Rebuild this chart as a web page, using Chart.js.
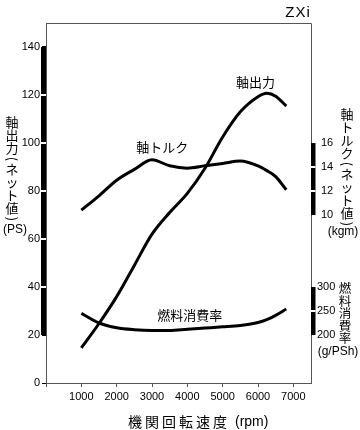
<!DOCTYPE html>
<html>
<head>
<meta charset="utf-8">
<script src="https://cdn.jsdelivr.net/npm/chart.js@4"></script>
<style>
  body { margin: 0; background: #fff; }
  canvas { display: block; }
</style>
</head>
<body>
<canvas id="engChart" width="360" height="430"></canvas>
<script>
// engine speed (rpm)
const rpm = [1000, 1500, 2000, 2500, 3000, 3500, 4000, 4500, 5000, 5500, 6000, 6250, 6500, 6800];
// 軸出力 (PS)
const power = [14.6, 24.8, 36, 49, 62, 71, 79, 89.5, 102.5, 113, 119.3, 120.7, 119.5, 115.4];
// 軸トルク (kgm)
const torque = [10.4, 11.6, 12.9, 13.8, 14.6, 14.1, 13.9, 14.1, 14.3, 14.5, 14.1, 13.7, 13.2, 12.1];
// 燃料消費率 (g/PSh)
const fuel = [245, 225, 215, 211, 209.5, 209.5, 212, 214.5, 217, 220, 226, 232, 241, 254];

const xTicks = [1000, 2000, 3000, 4000, 5000, 6000, 7000];
const powerTicks = [0, 20, 40, 60, 80, 100, 120, 140];
const torqueTicks = [10, 12, 14, 16];
const fuelTicks = [200, 250, 300];

// in-plot curve names: text, rpm, value, axis
const curveNames = ['軸出力', '軸トルク', '燃料消費率'];
const curveNameRpm = [5930, 3290, 4065];
const curveNameVal = [125.2, 15.7, 242.5];
const curveNameAxis = ['y', 'yT', 'yF'];

const jp = '"Noto Sans CJK JP", sans-serif';
const lat = '"Liberation Sans", Arial, sans-serif';
const narrow = '"Liberation Sans Narrow", "Liberation Sans", sans-serif';

function pts(ys) {
    return rpm.map((r, i) => ({x: r, y: ys[i]}));
}

// draw japanese text top-to-bottom, parens turned sideways
function vtext(ctx, str, x, yTop, size) {
    ctx.font = size + 'px ' + jp;
    ctx.textAlign = 'center';
    ctx.textBaseline = 'middle';
    let y = yTop;
    for (const ch of str) {
        if (ch === '(' || ch === ')') {
            const h = 8;
            ctx.save();
            ctx.translate(x, y + h / 2);
            ctx.rotate(Math.PI / 2);
            ctx.fillText(ch, 0, 0);
            ctx.restore();
            y += h;
        } else {
            ctx.fillText(ch, x, y + size / 2);
            y += size;
        }
    }
}

function bar(ctx, scale, x, w, vals) {
    const top = scale.getPixelForValue(vals[vals.length - 1]);
    const bot = scale.getPixelForValue(vals[0]);
    ctx.fillStyle = '#000';
    ctx.fillRect(x, top, w, bot - top);
    ctx.fillStyle = '#fff';
    for (let i = 1; i < vals.length - 1; i++) {
        const p = scale.getPixelForValue(vals[i]);
        ctx.fillRect(x, p - 1, w, 2);
    }
}

const decor = {
    id: 'decor',
    afterDraw(chart) {
        const ctx = chart.ctx;
        const a = chart.chartArea;
        const sy = chart.scales.y, sT = chart.scales.yT, sF = chart.scales.yF, sx = chart.scales.x;
        ctx.save();

        // frame top + right
        ctx.strokeStyle = '#555';
        ctx.lineWidth = 1;
        ctx.beginPath();
        ctx.moveTo(a.left, a.top + 0.5);
        ctx.lineTo(a.right + 0.5, a.top + 0.5);
        ctx.lineTo(a.right + 0.5, a.bottom);
        ctx.stroke();

        // thick bars beside the axes
        bar(ctx, sy, a.left - 5, 5, powerTicks.slice(1));
        bar(ctx, sT, a.right, 4.5, torqueTicks);
        bar(ctx, sF, a.right, 4.5, fuelTicks);

        // right tick labels
        ctx.fillStyle = '#000';
        ctx.textAlign = 'left';
        ctx.textBaseline = 'middle';
        ctx.font = '11px ' + narrow;
        torqueTicks.forEach(v => ctx.fillText(String(v), a.right + 10, sT.getPixelForValue(v)));
        ctx.font = '11px ' + lat;
        fuelTicks.forEach(v => ctx.fillText(String(v), a.right + 6, sF.getPixelForValue(v)));

        // axis titles
        vtext(ctx, '軸出力(ネット値)', 12, 116, 13);
        vtext(ctx, '軸トルク(ネット値)', 347, 108, 13);
        vtext(ctx, '燃料消費率', 345, 282, 12.5);
        ctx.font = '12px ' + lat;
        ctx.textAlign = 'center';
        ctx.textBaseline = 'middle';
        ctx.fillText('(PS)', 15, 230);
        ctx.fillText('(kgm)', 343, 232);
        ctx.fillText('(g/PSh)', 338, 352);

        // x title
        ctx.font = '14px ' + jp;
        ctx.letterSpacing = '3px';
        ctx.textAlign = 'left';
        ctx.fillText('機関回転速度', 128, 422);
        ctx.letterSpacing = '0px';
        ctx.font = '14px ' + lat;
        ctx.fillText('(rpm)', 235, 422);

        // model name
        ctx.font = '15px ' + lat;
        ctx.letterSpacing = '1px';
        ctx.textAlign = 'center';
        ctx.fillText('ZXi', 298, 13);
        ctx.letterSpacing = '0px';

        // curve names
        ctx.font = '13px ' + jp;
        curveNames.forEach((t, i) => {
            const s = chart.scales[curveNameAxis[i]];
            ctx.fillText(t, sx.getPixelForValue(curveNameRpm[i]), s.getPixelForValue(curveNameVal[i]));
        });
        ctx.restore();
    }
};

const line = (data, axis) => ({
    data: data,
    yAxisID: axis,
    borderColor: '#000',
    borderWidth: 3,
    pointRadius: 0,
    fill: false,
    cubicInterpolationMode: 'monotone'
});

new Chart(document.getElementById('engChart'), {
    type: 'line',
    data: {
        datasets: [
            line(pts(power), 'y'),
            line(pts(torque), 'yT'),
            line(pts(fuel), 'yF')
        ]
    },
    options: {
        responsive: false,
        animation: false,
        layout: { padding: { top: 23, right: 49, left: 0, bottom: 0 } },
        plugins: { legend: { display: false }, tooltip: { enabled: false } },
        scales: {
            x: {
                type: 'linear',
                min: 0,
                max: 7500,
                afterBuildTicks: s => { s.ticks = [0].concat(xTicks).map(v => ({value: v})); },
                ticks: {
                    autoSkip: false,
                    maxRotation: 0,
                    padding: 3,
                    color: '#000',
                    font: { family: narrow, size: 11 },
                    callback: v => v > 0 ? String(v) : ''
                },
                grid: { drawOnChartArea: false, tickLength: 4, color: '#555' },
                border: { color: '#555', width: 1 },
                afterFit: s => { s.height = 47; }
            },
            y: {
                position: 'left',
                min: 0,
                max: 150,
                afterBuildTicks: s => { s.ticks = powerTicks.map(v => ({value: v})); },
                ticks: {
                    padding: 2,
                    color: '#000',
                    font: { family: narrow, size: 11 }
                },
                grid: { drawOnChartArea: false, tickLength: 4, color: '#000' },
                border: { color: '#555', width: 1 },
                afterFit: s => { s.width = 46; }
            },
            // torque: 10 kgm ~ 70 PS, 16 kgm ~ 100 PS
            yT: { position: 'right', display: false, min: -4, max: 26 },
            // fuel: 200 ~ 20 PS, 300 ~ 40 PS
            yF: { position: 'right', display: false, min: 100, max: 850 }
        }
    },
    plugins: [decor]
});
</script>
</body>
</html>
